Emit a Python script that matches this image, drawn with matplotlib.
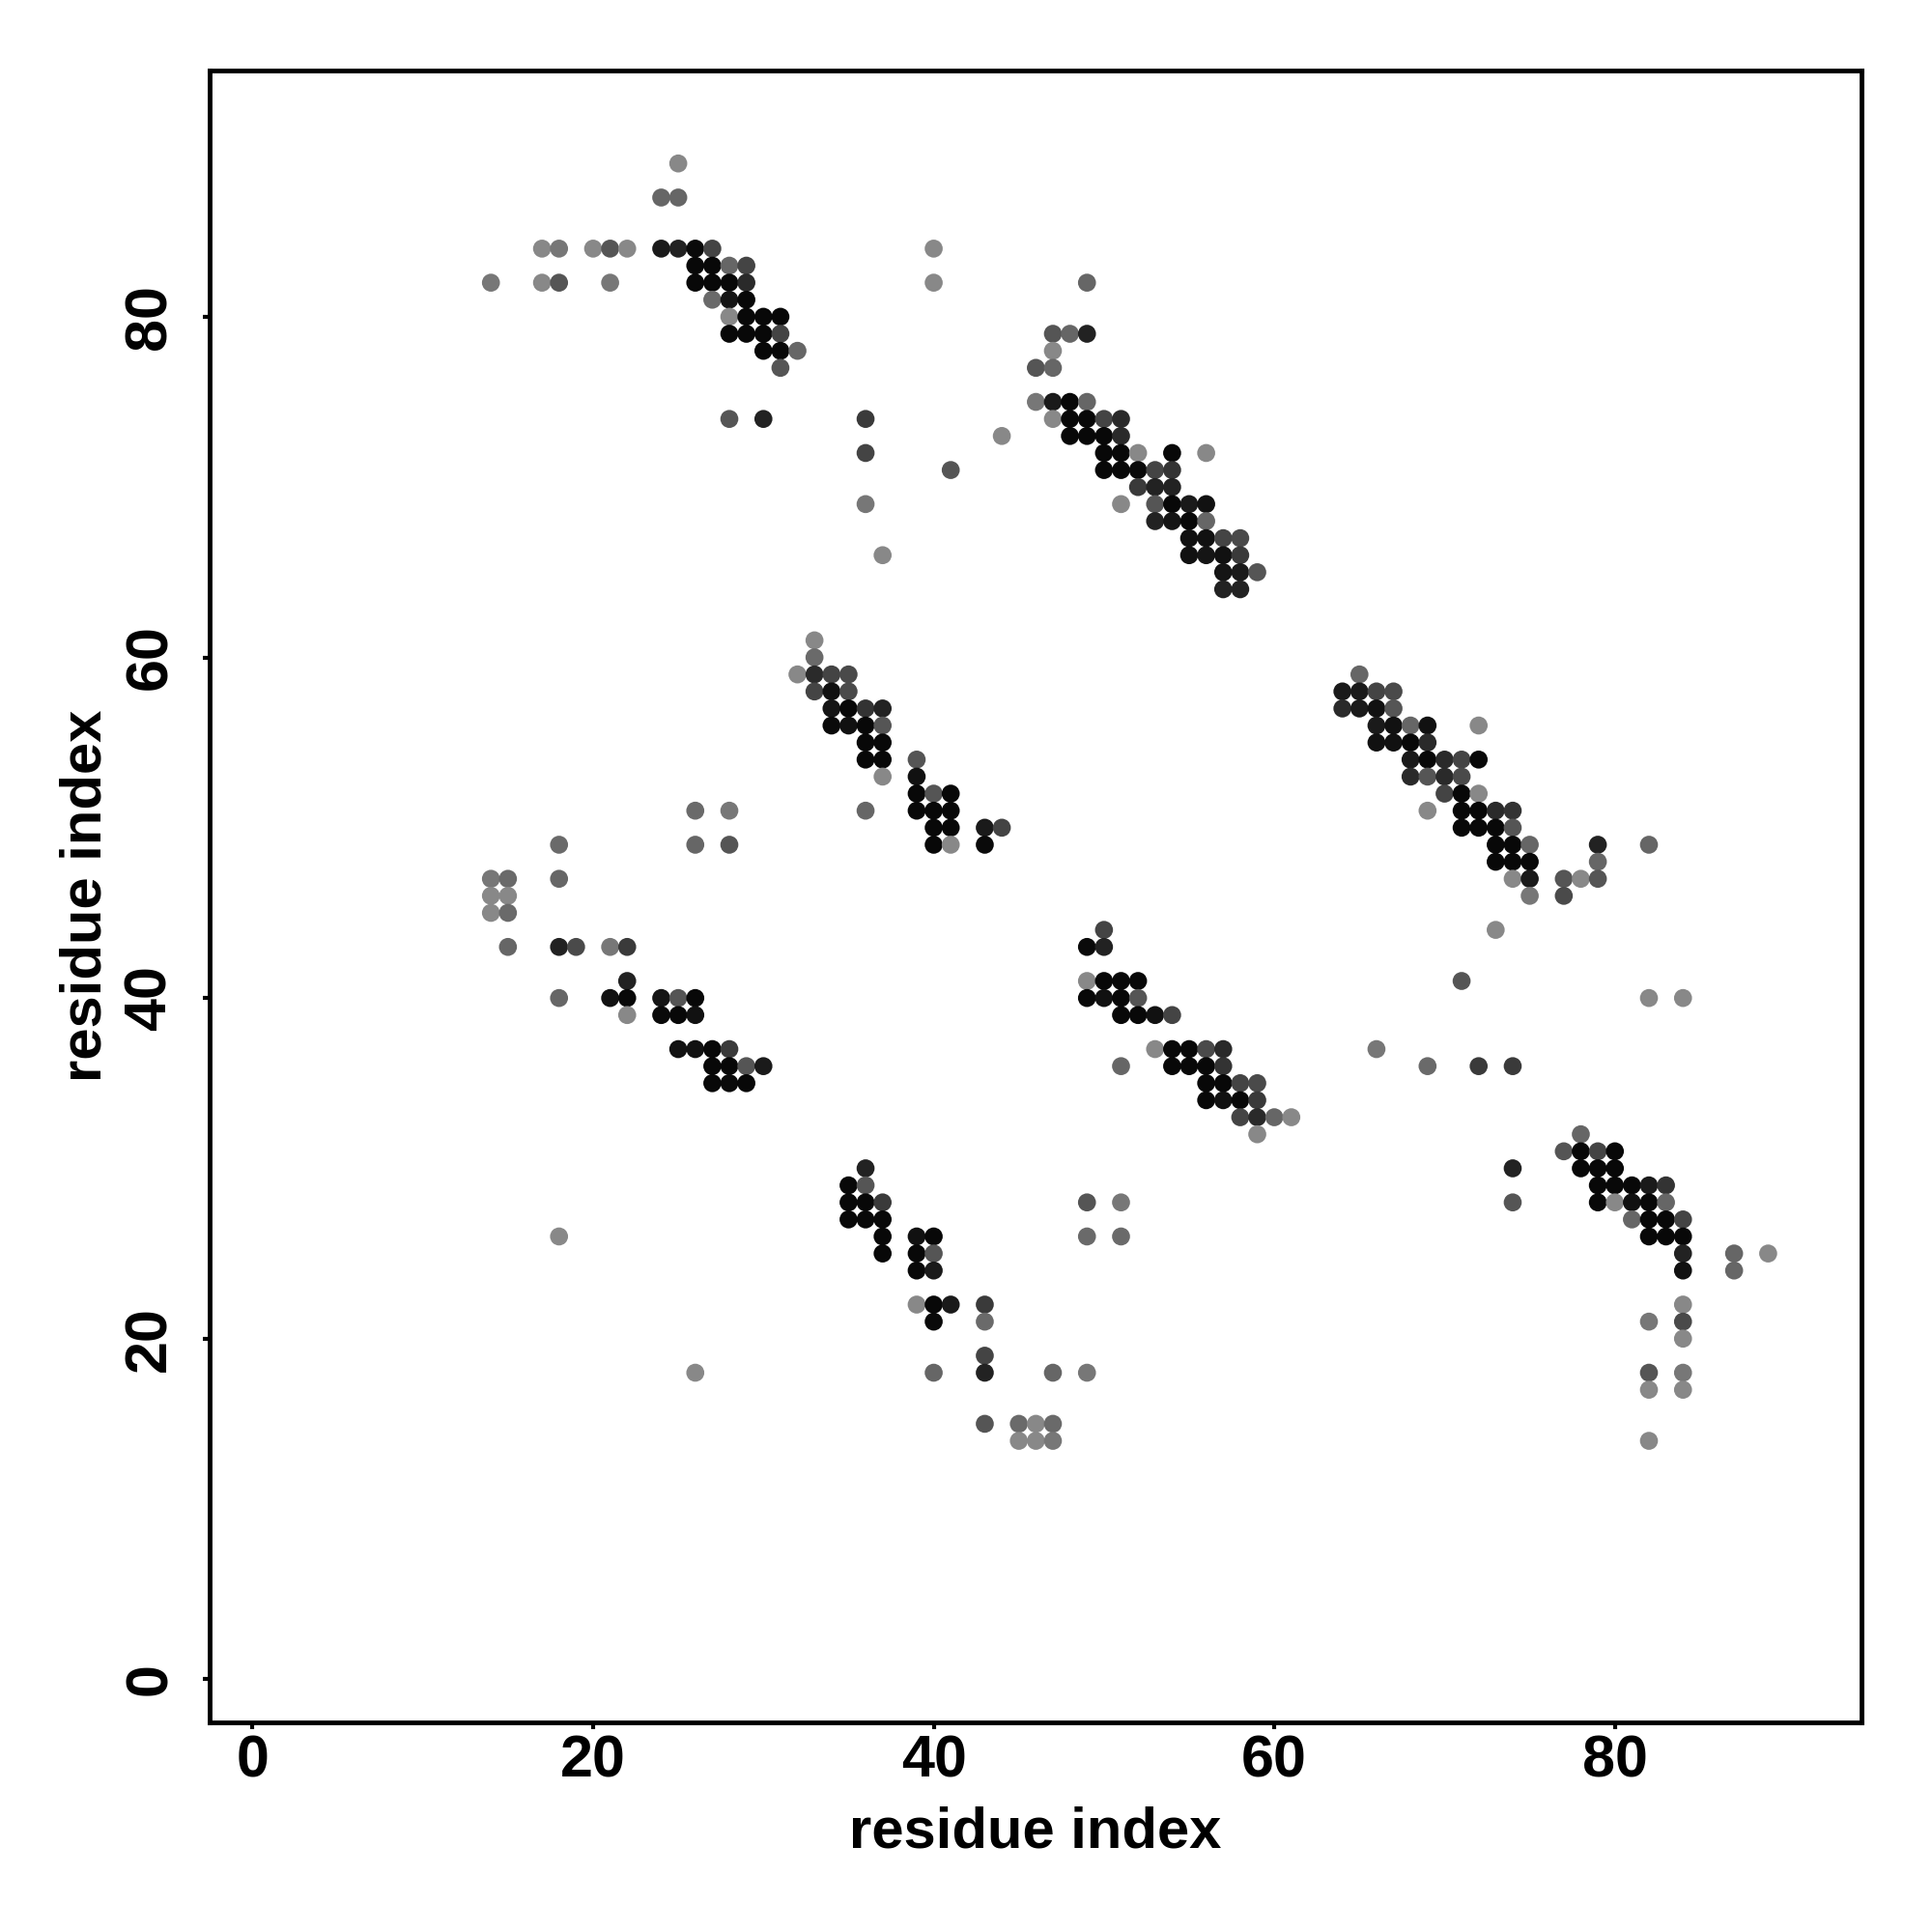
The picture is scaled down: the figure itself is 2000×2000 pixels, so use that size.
import numpy as np
import matplotlib.pyplot as plt

# contact map: residue i, residue j, grey level of the dot (0 = black, 255 = white)
res_i = [
    25, 24, 25,
    17, 18, 20, 21, 22, 24, 25, 26, 27,
    26, 27, 28, 29,
    14, 17, 18, 21, 26, 27, 28, 29,
    27, 28, 29,
    28, 29, 30, 31,
    28, 29, 30, 31,
    30, 31, 32,
    31,
    28, 30,
    # block around (50, 70)
    40,
    40, 49,
    47, 48, 49,
    47,
    46, 47,
    46, 47, 48, 49,
    36, 47, 48, 49, 50, 51,
    44, 48, 49, 50, 51,
    36, 50, 51, 52, 54, 56,
    41, 50, 51, 52, 53, 54,
    52, 53, 54,
    36, 51, 53, 54, 55, 56,
    53, 54, 55, 56,
    55, 56, 57, 58,
    37, 55, 56, 57, 58,
    57, 58, 59,
    57, 58,
    # block around (37, 55)
    33,
    33,
    32, 33, 34, 35,
    33, 34, 35,
    34, 35, 36, 37,
    34, 35, 36, 37,
    36, 37,
    36, 37, 39,
    37, 39,
    39, 40, 41,
    36, 39, 40, 41,
    40, 41, 43, 44,
    40, 41, 43,
    # block around (70, 52)
    65,
    64, 65, 66, 67,
    64, 65, 66, 67,
    66, 67, 68, 69, 72,
    66, 67, 68, 69,
    68, 69, 70, 71, 72,
    68, 69, 70, 71,
    70, 71, 72,
    69, 71, 72, 73, 74,
    71, 72, 73, 74,
    73, 74, 75, 79, 82,
    73, 74, 75, 79,
    74, 75, 77, 78, 79,
    75, 77,
    73,
    # block around (22, 40)
    26, 28,
    18, 26, 28,
    14, 15, 18,
    14, 15,
    14, 15,
    15, 18, 19, 21, 22,
    22,
    18, 21, 22, 24, 25, 26,
    22, 24, 25, 26,
    25, 26, 27, 28,
    27, 28, 29, 30,
    27, 28, 29,
    # block around (55, 37)
    50,
    49, 50,
    49, 50, 51, 52,
    49, 50, 51, 52,
    51, 52, 53, 54,
    53, 54, 55, 56, 57,
    51, 54, 55, 56, 57,
    56, 57, 58, 59,
    56, 57, 58, 59,
    58, 59, 60, 61,
    59,
    # block around (40, 22)
    36,
    35, 36,
    35, 36, 37, 49, 51,
    35, 36, 37,
    37, 39, 40, 49, 51,
    37, 39, 40,
    39, 40,
    39, 40, 41, 43,
    40, 43,
    43,
    40, 43, 47, 49,
    43, 45, 46, 47,
    45, 46, 47,
    # block around (82, 28)
    82, 84,
    78,
    77, 78, 79, 80,
    78, 79, 80,
    79, 80, 81, 82, 83,
    79, 80, 81, 82, 83,
    81, 82, 83, 84,
    82, 83, 84,
    84, 87, 89,
    84, 87,
    84,
    82, 84,
    84,
    82, 84,
    82, 84,
    82,
    # scattered
    71, 66, 69, 72, 74, 74, 74,
    18, 26,
]

res_j = [
    89, 87, 87,
    84, 84, 84, 84, 84, 84, 84, 84, 84,
    83, 83, 83, 83,
    82, 82, 82, 82, 82, 82, 82, 82,
    81, 81, 81,
    80, 80, 80, 80,
    79, 79, 79, 79,
    78, 78, 78,
    77,
    74, 74,
    84,
    82, 82,
    79, 79, 79,
    78,
    77, 77,
    75, 75, 75, 75,
    74, 74, 74, 74, 74, 74,
    73, 73, 73, 73, 73,
    72, 72, 72, 72, 72, 72,
    71, 71, 71, 71, 71, 71,
    70, 70, 70,
    69, 69, 69, 69, 69, 69,
    68, 68, 68, 68,
    67, 67, 67, 67,
    66, 66, 66, 66, 66,
    65, 65, 65,
    64, 64,
    61,
    60,
    59, 59, 59, 59,
    58, 58, 58,
    57, 57, 57, 57,
    56, 56, 56, 56,
    55, 55,
    54, 54, 54,
    53, 53,
    52, 52, 52,
    51, 51, 51, 51,
    50, 50, 50, 50,
    49, 49, 49,
    59,
    58, 58, 58, 58,
    57, 57, 57, 57,
    56, 56, 56, 56, 56,
    55, 55, 55, 55,
    54, 54, 54, 54, 54,
    53, 53, 53, 53,
    52, 52, 52,
    51, 51, 51, 51, 51,
    50, 50, 50, 50,
    49, 49, 49, 49, 49,
    48, 48, 48, 48,
    47, 47, 47, 47, 47,
    46, 46,
    44,
    51, 51,
    49, 49, 49,
    47, 47, 47,
    46, 46,
    45, 45,
    43, 43, 43, 43, 43,
    41,
    40, 40, 40, 40, 40, 40,
    39, 39, 39, 39,
    37, 37, 37, 37,
    36, 36, 36, 36,
    35, 35, 35,
    44,
    43, 43,
    41, 41, 41, 41,
    40, 40, 40, 40,
    39, 39, 39, 39,
    37, 37, 37, 37, 37,
    36, 36, 36, 36, 36,
    35, 35, 35, 35,
    34, 34, 34, 34,
    33, 33, 33, 33,
    32,
    30,
    29, 29,
    28, 28, 28, 28, 28,
    27, 27, 27,
    26, 26, 26, 26, 26,
    25, 25, 25,
    24, 24,
    22, 22, 22, 22,
    21, 21,
    19,
    18, 18, 18, 18,
    15, 15, 15, 15,
    14, 14, 14,
    40, 40,
    32,
    31, 31, 31, 31,
    30, 30, 30,
    29, 29, 29, 29, 29,
    28, 28, 28, 28, 28,
    27, 27, 27, 27,
    26, 26, 26,
    25, 25, 25,
    24, 24,
    22,
    21, 21,
    20,
    18, 18,
    17, 17,
    14,
    41, 37, 36, 36, 36, 30, 28,
    26, 18,
]

shade = [
    136, 102, 102,
    136, 119, 136, 85, 136, 26, 34, 10, 68,
    8, 8, 102, 68,
    119, 136, 85, 119, 8, 8, 8, 42,
    106, 21, 8,
    136, 8, 8, 8,
    8, 8, 8, 68,
    8, 8, 102,
    85,
    85, 34,
    136,
    136, 102,
    85, 102, 34,
    136,
    85, 102,
    119, 26, 8, 102,
    58, 136, 8, 8, 68, 42,
    136, 8, 8, 8, 42,
    68, 8, 8, 136, 8, 136,
    85, 8, 8, 10, 68, 51,
    58, 34, 34,
    119, 136, 85, 8, 26, 17,
    34, 21, 8, 102,
    17, 17, 68, 74,
    136, 17, 21, 17, 58,
    21, 26, 85,
    34, 34,
    136,
    106,
    136, 42, 68, 74,
    68, 17, 74,
    21, 8, 51, 34,
    10, 17, 8, 85,
    8, 8,
    8, 8, 85,
    136, 17,
    8, 85, 8,
    102, 8, 8, 8,
    8, 8, 26, 68,
    8, 136, 10,
    102,
    26, 26, 68, 74,
    42, 26, 17, 85,
    26, 17, 102, 17, 136,
    17, 17, 8, 42,
    26, 8, 42, 68, 8,
    42, 85, 42, 74,
    68, 8, 136,
    136, 8, 8, 42, 51,
    8, 8, 8, 85,
    8, 8, 102, 34, 102,
    8, 8, 8, 102,
    136, 26, 85, 136, 85,
    119, 74,
    136,
    106, 119,
    106, 102, 85,
    119, 106, 102,
    136, 136,
    136, 106,
    102, 34, 74, 119, 58,
    34,
    102, 17, 8, 21, 85, 8,
    136, 10, 8, 17,
    17, 17, 8, 58,
    8, 8, 85, 26,
    8, 10, 8,
    68,
    10, 34,
    136, 8, 8, 8,
    8, 17, 8, 85,
    8, 8, 17, 68,
    136, 8, 8, 74, 42,
    102, 8, 8, 8, 51,
    8, 8, 68, 74,
    8, 17, 8, 58,
    68, 42, 102, 136,
    136,
    34,
    8, 85,
    8, 8, 58, 85, 119,
    8, 8, 8,
    8, 17, 8, 106, 106,
    8, 8, 85,
    8, 26,
    136, 8, 26, 58,
    10, 106,
    68,
    102, 34, 102, 119,
    85, 106, 136, 106,
    136, 136, 119,
    136, 136,
    102,
    85, 8, 68, 8,
    8, 8, 8,
    8, 8, 8, 26, 51,
    8, 136, 17, 8, 102,
    102, 8, 8, 68,
    8, 8, 8,
    34, 102, 136,
    17, 102,
    136,
    119, 74,
    136,
    85, 119,
    136, 136,
    136,
    85, 119, 106, 58, 58, 34, 85,
    136, 136,
]

plt.rcParams['font.family'] = ['Liberation Sans', 'DejaVu Sans']
plt.rcParams['font.weight'] = 'bold'

fig = plt.figure(figsize=(20, 20), dpi=100)
ax = fig.add_axes([0.1084, 0.1085, 0.8551, 0.8552])

colors = [(g / 255, g / 255, g / 255) for g in shade]
ax.scatter(res_i, res_j, s=180, c=colors, linewidths=0)

ax.set_xlim(-2.53, 94.48)
ax.set_ylim(-2.53, 94.48)
ticks = [0, 20, 40, 60, 80]
ax.set_xticks(ticks)
ax.set_yticks(ticks)

for sp in ax.spines.values():
    sp.set_linewidth(3.5)

ax.tick_params(axis='both', length=5, width=3, labelsize=44, direction='out')
ax.tick_params(axis='x', pad=4)
ax.tick_params(axis='y', pad=18)
plt.setp(ax.get_yticklabels(), rotation=90, va='center')

ax.set_xlabel('residue index', fontsize=43, fontweight='bold', labelpad=12)
ax.set_ylabel('residue index', fontsize=43, fontweight='bold', labelpad=8)

fig.savefig('out.png', dpi=100)
